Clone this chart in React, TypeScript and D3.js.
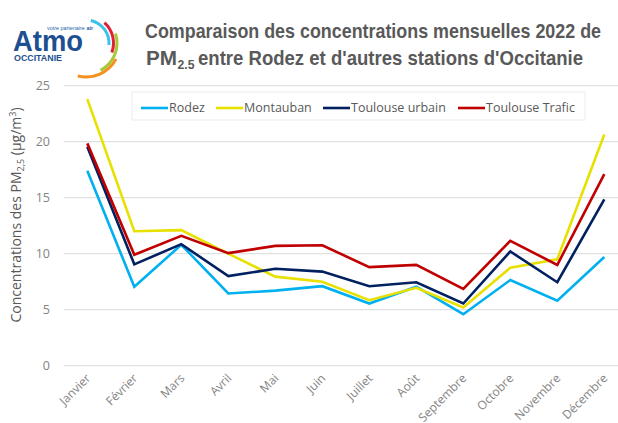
import React from 'react'
import * as d3 from 'd3'

const months = ['Janvier', 'Février', 'Mars', 'Avril', 'Mai', 'Juin', 'Juillet', 'Août', 'Septembre', 'Octobre', 'Novembre', 'Décembre']
const rodez = [17.4, 7.05, 10.8, 6.45, 6.7, 7.1, 5.55, 7.05, 4.6, 7.65, 5.8, 9.7]
const montauban = [23.8, 12.0, 12.1, 10.0, 7.95, 7.5, 5.85, 6.95, 5.2, 8.75, 9.5, 20.65]
const toulouseUrbain = [19.55, 9.05, 10.85, 8.0, 8.65, 8.4, 7.1, 7.45, 5.55, 10.2, 7.45, 14.85]
const toulouseTrafic = [19.85, 9.9, 11.6, 10.05, 10.7, 10.75, 8.8, 9.0, 6.85, 11.15, 9.0, 17.1]
const yTicks = [0, 5, 10, 15, 20, 25]

const series = [
  { name: 'Rodez', values: rodez, color: '#00b0f0' },
  { name: 'Montauban', values: montauban, color: '#e8e000' },
  { name: 'Toulouse urbain', values: toulouseUrbain, color: '#002060' },
  { name: 'Toulouse Trafic', values: toulouseTrafic, color: '#c00000' },
]
// legend swatch starts (x) for each series
const legendX = [141, 216, 323, 458]

const W = 618
const H = 423

export default function App() {
  const x = d3.scalePoint<string>().domain(months).range([87.3, 604.3])
  const y = d3.scaleLinear().domain([0, 25]).range([365.7, 85.7])
  const line = d3.line<number>().x((_, i) => x(months[i]) as number).y(d => y(d))

  const arc = d3.arc()
  const logoArcs = [
    { r: 23, a0: 12, a1: 95, c: '#3cc0ee' },
    { r: 27.5, a0: 42, a1: 110, c: '#e2203a' },
    { r: 31, a0: 72, a1: 152, c: '#a6c936' },
    { r: 34, a0: 118, a1: 194, c: '#f39220' },
  ]
  const rad = (a: number) => (a * Math.PI) / 180

  const grey = '#595959'
  const tickGrey = '#838383'

  return (
    <svg width={W} height={H} style={{ position: 'absolute', left: 0, top: 0, background: '#fff' }}>
      <rect width={W} height={H} fill="#fff" />

      {/* logo */}
      <g>
        <text x={47} y={30} fontFamily="Liberation Sans, Arial" fontSize={6} fill="#2a5fa8" textLength={46} lengthAdjust="spacingAndGlyphs">
          votre partenaire <tspan fontWeight="bold">air</tspan>
        </text>
        <text x={13} y={51} fontFamily="Liberation Sans, Arial" fontWeight="bold" fontSize={29} fill="#1d4f91" textLength={70} lengthAdjust="spacingAndGlyphs">Atmo</text>
        <text x={14} y={60.5} fontFamily="Liberation Sans, Arial" fontWeight="bold" fontSize={8.5} fill="#1d4f91" textLength={48} lengthAdjust="spacingAndGlyphs">OCCITANIE</text>
        {logoArcs.map((a, i) => (
          <path key={i} transform="translate(86,43)" fill={a.c}
            d={arc({ innerRadius: a.r - 1.5, outerRadius: a.r + 1.5, startAngle: rad(a.a0), endAngle: rad(a.a1) }) as string} />
        ))}
      </g>

      {/* title */}
      <g fontFamily="Liberation Sans, Arial" fontWeight="bold" fontSize={21} fill={grey}>
        <text x={373} y={37.5} textAnchor="middle" textLength={456} lengthAdjust="spacingAndGlyphs">
          Comparaison des concentrations mensuelles 2022 de
        </text>
        <text x={146} y={65} textLength={31} lengthAdjust="spacingAndGlyphs">PM</text>
        <text x={177.5} y={69} fontSize={13} textLength={17} lengthAdjust="spacingAndGlyphs">2.5</text>
        <text x={198} y={65} textLength={385} lengthAdjust="spacingAndGlyphs">entre Rodez et d'autres stations d'Occitanie</text>
      </g>

      {/* grid */}
      {yTicks.map(t => (
        <g key={t}>
          <line x1={64} x2={W} y1={y(t)} y2={y(t)} stroke="#d9d9d9" strokeWidth={1} />
          <text x={50} y={y(t)} dy="0.35em" textAnchor="end" fontFamily="Open Sans, Noto Sans" fontSize={12.5} fill={tickGrey}>{t}</text>
        </g>
      ))}

      {/* y axis title */}
      <text transform="translate(21,215) rotate(-90)" textAnchor="middle" fontFamily="Open Sans, Noto Sans" fontSize={14} fill={grey}>
        Concentrations des PM<tspan fontSize={9} dy={3}>2,5</tspan><tspan dy={-3}> (µg/m</tspan><tspan fontSize={9} dy={-5}>3</tspan><tspan dy={5}>)</tspan>
      </text>

      {/* x labels */}
      {months.map(m => (
        <text key={m} transform={`translate(${(x(m) as number) + 4},${379}) rotate(-45)`} textAnchor="end"
          fontFamily="Open Sans, Noto Sans" fontSize={12} fill={tickGrey}>{m}</text>
      ))}

      {/* lines */}
      {series.map(s => (
        <path key={s.name} d={line(s.values) as string} fill="none" stroke={s.color} strokeWidth={2.6} strokeLinejoin="miter" />
      ))}

      {/* legend */}
      <rect x={132} y={92} width={453} height={28} fill="#fff" stroke="#ececec" />
      {series.map((s, i) => (
        <g key={s.name}>
          <line x1={legendX[i]} x2={legendX[i] + 27} y1={108} y2={108} stroke={s.color} strokeWidth={2.6} />
          <text x={legendX[i] + 28} y={108} dy="0.35em" fontFamily="Open Sans, Noto Sans" fontSize={12.5} fill={grey}>{s.name}</text>
        </g>
      ))}
    </svg>
  )
}
